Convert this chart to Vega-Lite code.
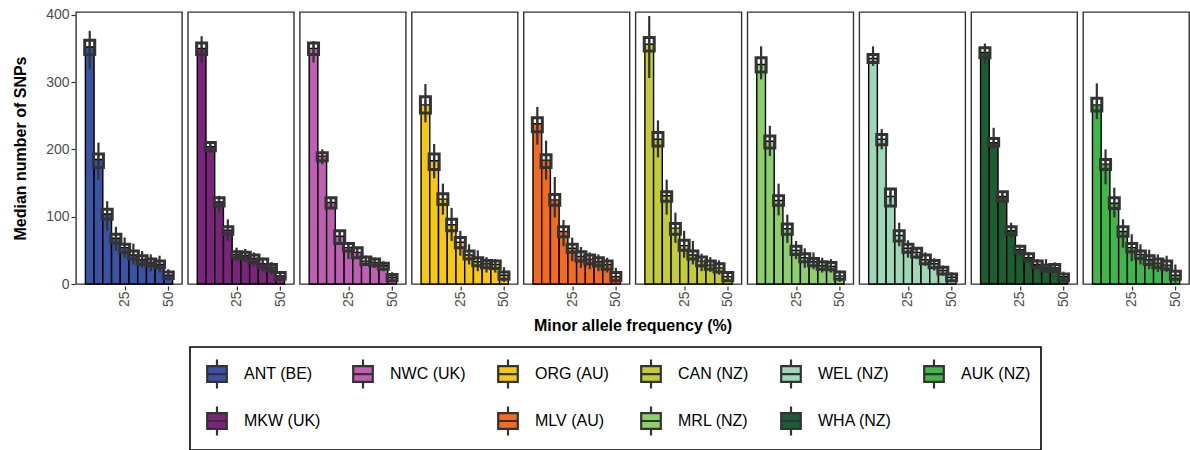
{
  "$schema": "https://vega.github.io/schema/vega-lite/v6.json",
  "padding": {"left": 12, "top": 7, "right": 0, "bottom": 0},
  "background": "white",
  "config": {
    "font": "Liberation Sans",
    "view": {"stroke": "#333333", "strokeWidth": 1.4},
    "axis": {"grid": false, "domain": false, "tickColor": "#333333", "tickSize": 4, "tickWidth": 1.2, "labelFontSize": 14, "labelColor": "#4d4d4d", "titleFontSize": 16, "titleFontWeight": "bold", "titleColor": "black", "labelFont": "Liberation Sans", "titleFont": "Liberation Sans"}
  },
  "data": {"values": [
    {"p":"ANT (BE)","m":5,"med":352,"q1":341,"q3":362,"lo":319,"hi":376},
    {"p":"ANT (BE)","m":10,"med":185,"q1":173,"q3":193,"lo":155,"hi":210},
    {"p":"ANT (BE)","m":15,"med":104,"q1":96,"q3":111,"lo":79,"hi":123},
    {"p":"ANT (BE)","m":20,"med":68,"q1":61,"q3":74,"lo":49,"hi":85},
    {"p":"ANT (BE)","m":25,"med":54,"q1":47,"q3":59,"lo":39,"hi":69},
    {"p":"ANT (BE)","m":30,"med":43,"q1":37,"q3":49,"lo":29,"hi":60},
    {"p":"ANT (BE)","m":35,"med":36,"q1":29,"q3":42,"lo":24,"hi":49},
    {"p":"ANT (BE)","m":40,"med":32,"q1":27,"q3":37,"lo":19,"hi":44},
    {"p":"ANT (BE)","m":45,"med":29,"q1":24,"q3":34,"lo":17,"hi":42},
    {"p":"ANT (BE)","m":50,"med":13,"q1":8,"q3":18,"lo":5,"hi":22},
    {"p":"MKW (UK)","m":5,"med":350,"q1":341,"q3":358,"lo":329,"hi":368},
    {"p":"MKW (UK)","m":10,"med":204,"q1":198,"q3":210,"lo":195,"hi":212},
    {"p":"MKW (UK)","m":15,"med":122,"q1":116,"q3":128,"lo":106,"hi":131},
    {"p":"MKW (UK)","m":20,"med":80,"q1":74,"q3":85,"lo":64,"hi":96},
    {"p":"MKW (UK)","m":25,"med":44,"q1":39,"q3":48,"lo":34,"hi":54},
    {"p":"MKW (UK)","m":30,"med":42,"q1":37,"q3":47,"lo":32,"hi":52},
    {"p":"MKW (UK)","m":35,"med":38,"q1":32,"q3":43,"lo":27,"hi":47},
    {"p":"MKW (UK)","m":40,"med":30,"q1":24,"q3":37,"lo":19,"hi":39},
    {"p":"MKW (UK)","m":45,"med":25,"q1":19,"q3":29,"lo":14,"hi":32},
    {"p":"MKW (UK)","m":50,"med":12,"q1":7,"q3":17,"lo":4,"hi":19},
    {"p":"NWC (UK)","m":5,"med":350,"q1":341,"q3":358,"lo":329,"hi":361},
    {"p":"NWC (UK)","m":10,"med":190,"q1":183,"q3":195,"lo":178,"hi":200},
    {"p":"NWC (UK)","m":15,"med":121,"q1":113,"q3":128,"lo":111,"hi":128},
    {"p":"NWC (UK)","m":20,"med":71,"q1":60,"q3":79,"lo":59,"hi":80},
    {"p":"NWC (UK)","m":25,"med":54,"q1":49,"q3":60,"lo":37,"hi":61},
    {"p":"NWC (UK)","m":30,"med":47,"q1":39,"q3":54,"lo":37,"hi":55},
    {"p":"NWC (UK)","m":35,"med":34,"q1":29,"q3":40,"lo":27,"hi":42},
    {"p":"NWC (UK)","m":40,"med":32,"q1":27,"q3":37,"lo":24,"hi":39},
    {"p":"NWC (UK)","m":45,"med":27,"q1":22,"q3":31,"lo":19,"hi":32},
    {"p":"NWC (UK)","m":50,"med":10,"q1":5,"q3":14,"lo":4,"hi":17},
    {"p":"ORG (AU)","m":5,"med":266,"q1":254,"q3":278,"lo":240,"hi":297},
    {"p":"ORG (AU)","m":10,"med":183,"q1":170,"q3":193,"lo":157,"hi":208},
    {"p":"ORG (AU)","m":15,"med":126,"q1":118,"q3":134,"lo":103,"hi":149},
    {"p":"ORG (AU)","m":20,"med":88,"q1":79,"q3":96,"lo":64,"hi":113},
    {"p":"ORG (AU)","m":25,"med":62,"q1":54,"q3":69,"lo":42,"hi":79},
    {"p":"ORG (AU)","m":30,"med":43,"q1":37,"q3":49,"lo":29,"hi":59},
    {"p":"ORG (AU)","m":35,"med":33,"q1":27,"q3":39,"lo":19,"hi":50},
    {"p":"ORG (AU)","m":40,"med":30,"q1":24,"q3":35,"lo":17,"hi":40},
    {"p":"ORG (AU)","m":45,"med":29,"q1":23,"q3":34,"lo":17,"hi":37},
    {"p":"ORG (AU)","m":50,"med":13,"q1":7,"q3":18,"lo":3,"hi":25},
    {"p":"MLV (AU)","m":5,"med":238,"q1":226,"q3":247,"lo":207,"hi":263},
    {"p":"MLV (AU)","m":10,"med":184,"q1":173,"q3":192,"lo":155,"hi":213},
    {"p":"MLV (AU)","m":15,"med":125,"q1":117,"q3":133,"lo":99,"hi":159},
    {"p":"MLV (AU)","m":20,"med":78,"q1":70,"q3":85,"lo":56,"hi":95},
    {"p":"MLV (AU)","m":25,"med":53,"q1":47,"q3":59,"lo":34,"hi":69},
    {"p":"MLV (AU)","m":30,"med":41,"q1":34,"q3":48,"lo":24,"hi":55},
    {"p":"MLV (AU)","m":35,"med":37,"q1":30,"q3":43,"lo":22,"hi":47},
    {"p":"MLV (AU)","m":40,"med":33,"q1":27,"q3":39,"lo":19,"hi":44},
    {"p":"MLV (AU)","m":45,"med":29,"q1":22,"q3":34,"lo":17,"hi":39},
    {"p":"MLV (AU)","m":50,"med":11,"q1":5,"q3":17,"lo":2,"hi":24},
    {"p":"CAN (NZ)","m":5,"med":356,"q1":346,"q3":366,"lo":306,"hi":398},
    {"p":"CAN (NZ)","m":10,"med":215,"q1":205,"q3":225,"lo":188,"hi":243},
    {"p":"CAN (NZ)","m":15,"med":131,"q1":123,"q3":137,"lo":103,"hi":155},
    {"p":"CAN (NZ)","m":20,"med":83,"q1":74,"q3":90,"lo":61,"hi":106},
    {"p":"CAN (NZ)","m":25,"med":57,"q1":50,"q3":65,"lo":39,"hi":79},
    {"p":"CAN (NZ)","m":30,"med":43,"q1":37,"q3":49,"lo":29,"hi":64},
    {"p":"CAN (NZ)","m":35,"med":34,"q1":27,"q3":40,"lo":19,"hi":45},
    {"p":"CAN (NZ)","m":40,"med":28,"q1":22,"q3":34,"lo":18,"hi":40},
    {"p":"CAN (NZ)","m":45,"med":24,"q1":18,"q3":30,"lo":14,"hi":35},
    {"p":"CAN (NZ)","m":50,"med":11,"q1":5,"q3":17,"lo":3,"hi":19},
    {"p":"MRL (NZ)","m":5,"med":326,"q1":315,"q3":336,"lo":304,"hi":353},
    {"p":"MRL (NZ)","m":10,"med":212,"q1":202,"q3":220,"lo":190,"hi":235},
    {"p":"MRL (NZ)","m":15,"med":124,"q1":117,"q3":131,"lo":102,"hi":149},
    {"p":"MRL (NZ)","m":20,"med":82,"q1":74,"q3":89,"lo":61,"hi":103},
    {"p":"MRL (NZ)","m":25,"med":50,"q1":44,"q3":56,"lo":37,"hi":64},
    {"p":"MRL (NZ)","m":30,"med":39,"q1":33,"q3":45,"lo":24,"hi":53},
    {"p":"MRL (NZ)","m":35,"med":33,"q1":27,"q3":38,"lo":22,"hi":47},
    {"p":"MRL (NZ)","m":40,"med":27,"q1":22,"q3":33,"lo":17,"hi":39},
    {"p":"MRL (NZ)","m":45,"med":26,"q1":21,"q3":32,"lo":17,"hi":37},
    {"p":"MRL (NZ)","m":50,"med":12,"q1":7,"q3":18,"lo":3,"hi":20},
    {"p":"WEL (NZ)","m":5,"med":335,"q1":329,"q3":341,"lo":324,"hi":353},
    {"p":"WEL (NZ)","m":10,"med":215,"q1":207,"q3":222,"lo":200,"hi":230},
    {"p":"WEL (NZ)","m":15,"med":130,"q1":116,"q3":141,"lo":116,"hi":141},
    {"p":"WEL (NZ)","m":20,"med":72,"q1":64,"q3":79,"lo":56,"hi":91},
    {"p":"WEL (NZ)","m":25,"med":53,"q1":47,"q3":59,"lo":39,"hi":65},
    {"p":"WEL (NZ)","m":30,"med":47,"q1":40,"q3":53,"lo":37,"hi":54},
    {"p":"WEL (NZ)","m":35,"med":36,"q1":30,"q3":43,"lo":27,"hi":47},
    {"p":"WEL (NZ)","m":40,"med":30,"q1":24,"q3":35,"lo":20,"hi":38},
    {"p":"WEL (NZ)","m":45,"med":20,"q1":15,"q3":25,"lo":13,"hi":27},
    {"p":"WEL (NZ)","m":50,"med":10,"q1":5,"q3":15,"lo":3,"hi":17},
    {"p":"WHA (NZ)","m":5,"med":344,"q1":336,"q3":351,"lo":326,"hi":357},
    {"p":"WHA (NZ)","m":10,"med":210,"q1":205,"q3":216,"lo":200,"hi":232},
    {"p":"WHA (NZ)","m":15,"med":130,"q1":123,"q3":137,"lo":121,"hi":138},
    {"p":"WHA (NZ)","m":20,"med":79,"q1":73,"q3":85,"lo":69,"hi":91},
    {"p":"WHA (NZ)","m":25,"med":51,"q1":45,"q3":56,"lo":43,"hi":58},
    {"p":"WHA (NZ)","m":30,"med":39,"q1":34,"q3":45,"lo":32,"hi":47},
    {"p":"WHA (NZ)","m":35,"med":29,"q1":24,"q3":34,"lo":22,"hi":37},
    {"p":"WHA (NZ)","m":40,"med":24,"q1":19,"q3":28,"lo":17,"hi":37},
    {"p":"WHA (NZ)","m":45,"med":24,"q1":19,"q3":29,"lo":17,"hi":32},
    {"p":"WHA (NZ)","m":50,"med":11,"q1":5,"q3":15,"lo":3,"hi":17},
    {"p":"AUK (NZ)","m":5,"med":266,"q1":257,"q3":276,"lo":245,"hi":298},
    {"p":"AUK (NZ)","m":10,"med":178,"q1":170,"q3":185,"lo":148,"hi":200},
    {"p":"AUK (NZ)","m":15,"med":120,"q1":112,"q3":128,"lo":99,"hi":143},
    {"p":"AUK (NZ)","m":20,"med":78,"q1":71,"q3":85,"lo":54,"hi":96},
    {"p":"AUK (NZ)","m":25,"med":54,"q1":48,"q3":60,"lo":34,"hi":74},
    {"p":"AUK (NZ)","m":30,"med":44,"q1":38,"q3":49,"lo":29,"hi":59},
    {"p":"AUK (NZ)","m":35,"med":36,"q1":29,"q3":42,"lo":22,"hi":51},
    {"p":"AUK (NZ)","m":40,"med":31,"q1":24,"q3":37,"lo":18,"hi":44},
    {"p":"AUK (NZ)","m":45,"med":28,"q1":22,"q3":34,"lo":18,"hi":42},
    {"p":"AUK (NZ)","m":50,"med":13,"q1":7,"q3":19,"lo":2,"hi":29}
  ]},
  "facet": {
    "column": {
      "field": "p", "type": "nominal",
      "sort": ["ANT (BE)","MKW (UK)","NWC (UK)","ORG (AU)","MLV (AU)","CAN (NZ)","MRL (NZ)","WEL (NZ)","WHA (NZ)","AUK (NZ)"],
      "header": {"labels": false, "title": "Minor allele frequency (%)", "titleOrient": "bottom", "titleFont": "Liberation Sans", "titleFontSize": 16, "titleFontWeight": "bold", "titleColor": "black", "titlePadding": 1}
    }
  },
  "spacing": 3.9,
  "spec": {
    "width": 106,
    "height": 272,
    "encoding": {
      "x": {"field": "m", "type": "quantitative", "scale": {"domain": [0, 55], "nice": false, "zero": false}, "axis": {"values": [25, 50], "labelAngle": -90, "title": null, "labelPadding": 1}}
    },
    "layer": [
      {
        "mark": {"type": "bar", "width": 8.7, "stroke": "black", "strokeWidth": 1.4},
        "encoding": {
          "y": {"field": "med", "type": "quantitative", "scale": {"domain": [0, 404], "nice": false}, "axis": {"values": [0, 100, 200, 300, 400], "title": "Median number of SNPs", "titlePadding": 17}},
          "fill": {"field": "p", "type": "nominal",
            "scale": {
              "domain": ["ANT (BE)","NWC (UK)","ORG (AU)","CAN (NZ)","WEL (NZ)","AUK (NZ)","MKW (UK)"," ","MLV (AU)","MRL (NZ)","WHA (NZ)"],
              "range": ["#3a53a4","#bf5fb4","#f6c90e","#c3cb3b","#9ed8b9","#41b649","#7a247d","rgba(0,0,0,0)","#f36b21","#8ecf6c","#1b5e31"]
            },
            "legend": {
              "orient": "none", "legendX": 114, "legendY": 335,
              "title": null, "columns": 6, "direction": "horizontal",
              "padding": 10, "strokeColor": "black",
              "symbolType": "M-0.62,-0.5L0.62,-0.5L0.62,0.5L-0.62,0.5Z M-0.62,0L0.62,0 M0,-0.5L0,-0.92 M0,0.5L0,0.92",
              "symbolSize": 1000, "symbolStrokeColor": "#333333", "symbolStrokeWidth": 2.2, "symbolOpacity": 1,
              "labelFontSize": 16, "labelColor": "black", "labelFont": "Liberation Sans", "labelOffset": 10,
              "columnPadding": 25, "rowPadding": 9,
              "encode": {
                "legend": {"update": {"strokeWidth": {"value": 1.6}}},
                "symbols": {"update": {"strokeOpacity": {"signal": "datum.value === ' ' ? 0 : 1"}}}
              }
            }
          }
        }
      },
      {
        "mark": {"type": "rule", "color": "#333333", "strokeWidth": 2.2},
        "encoding": {
          "y": {"field": "lo", "type": "quantitative"},
          "y2": {"field": "hi"}
        }
      },
      {
        "mark": {"type": "bar", "width": 10, "stroke": "#333333", "strokeWidth": 3, "fill": "rgba(255,255,255,0)"},
        "encoding": {
          "y": {"field": "q1", "type": "quantitative"},
          "y2": {"field": "q3"}
        }
      },
      {
        "mark": {"type": "tick", "color": "#333333", "thickness": 2.5, "size": 10},
        "encoding": {
          "y": {"field": "med", "type": "quantitative"}
        }
      }
    ]
  }
}
